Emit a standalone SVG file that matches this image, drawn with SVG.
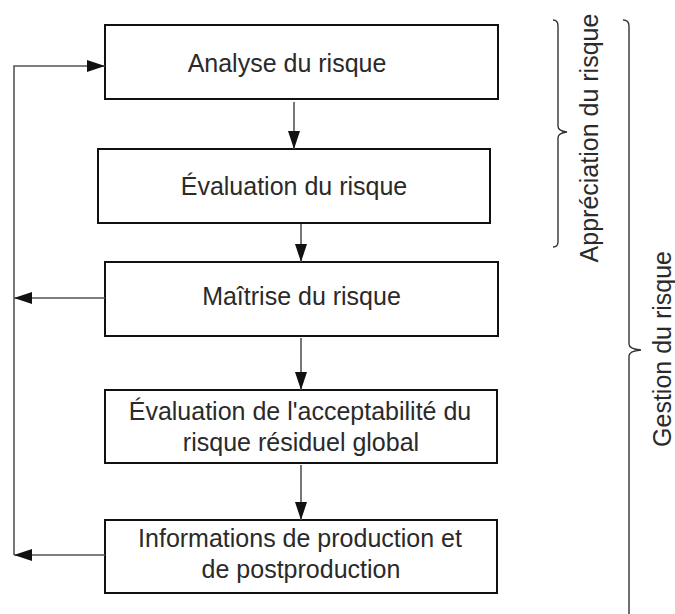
<svg xmlns="http://www.w3.org/2000/svg" width="675" height="614" viewBox="0 0 675 614">
  <style>
    .box { fill: #ffffff; stroke: #111111; stroke-width: 2; }
    .lbl { font-family: "Liberation Sans", Arial, sans-serif; font-size: 25px; fill: #2a2a2a; text-anchor: middle; }
    .wire { fill: none; stroke: #555555; stroke-width: 1.6; }
    .brace { fill: none; stroke: #333333; stroke-width: 1.4; }
  </style>
  <defs>
    <marker id="head" markerUnits="userSpaceOnUse" markerWidth="20" markerHeight="12" refX="18" refY="6" orient="auto">
      <path d="M0,0 L18,6 L0,12 Z" fill="#111111"/>
    </marker>
  </defs>

  <rect width="675" height="614" fill="#ffffff"/>

  <!-- process steps -->
  <g id="analyse">
    <rect class="box" x="105" y="25" width="393" height="74"/>
    <text class="lbl" x="287" y="72">Analyse du risque</text>
  </g>
  <g id="evaluation">
    <rect class="box" x="98" y="149" width="392" height="74"/>
    <text class="lbl" x="294" y="195">Évaluation du risque</text>
  </g>
  <g id="maitrise">
    <rect class="box" x="105" y="262" width="393" height="74"/>
    <text class="lbl" x="301.5" y="305">Maîtrise du risque</text>
  </g>
  <g id="acceptabilite">
    <rect class="box" x="105" y="390" width="392" height="73"/>
    <text class="lbl" x="300" y="420">Évaluation de l'acceptabilité du</text>
    <text class="lbl" x="301" y="451">risque résiduel global</text>
  </g>
  <g id="informations">
    <rect class="box" x="105" y="520" width="392" height="73"/>
    <text class="lbl" x="300" y="547">Informations de production et</text>
    <text class="lbl" x="301" y="578">de postproduction</text>
  </g>

  <!-- connectors -->
  <g id="connectors">
    <path class="wire" d="M294,102 V149" marker-end="url(#head)"/>
    <path class="wire" d="M301,224 V262" marker-end="url(#head)"/>
    <path class="wire" d="M301,338 V390" marker-end="url(#head)"/>
    <path class="wire" d="M301,465 V520" marker-end="url(#head)"/>
    <path class="wire" d="M105,298 H14" marker-end="url(#head)"/>
    <path class="wire" d="M105,555 H14" marker-end="url(#head)"/>
    <path class="wire" d="M14,555 V66 H105" marker-end="url(#head)"/>
  </g>

  <!-- scope braces -->
  <g id="appreciation">
    <path class="brace" d="M553,20 Q558,20 558,26 V126 Q558,131 567,132 Q558,133 558,138 V242 Q558,247 553,247"/>
    <text class="lbl" transform="translate(598,138) rotate(-90)" x="0" y="0">Appréciation du risque</text>
  </g>
  <g id="gestion">
    <path class="brace" d="M623,20 Q629,20 629,26 V344 Q629,349 641,350 Q629,351 629,356 V616"/>
    <text class="lbl" transform="translate(671,349) rotate(-90)" x="0" y="0">Gestion du risque</text>
  </g>
</svg>
